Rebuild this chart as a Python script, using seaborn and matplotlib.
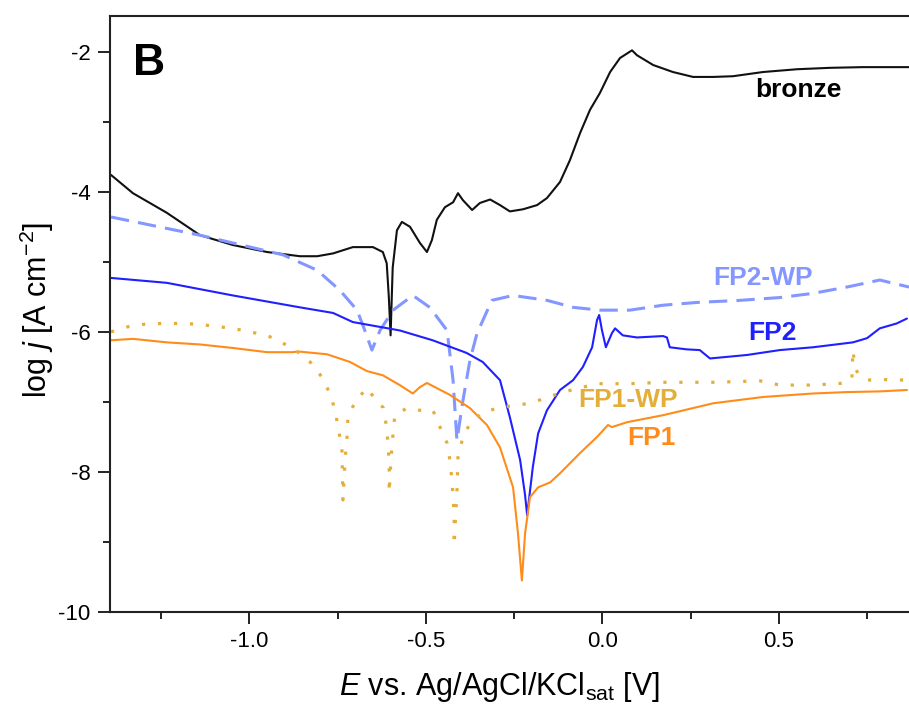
import numpy as np
import pandas as pd
import matplotlib
matplotlib.use("Agg")
import matplotlib.pyplot as plt
import seaborn as sns

# Potentiodynamic polarisation curves: potential E [V] and log j [A cm^-2]
bronze_E = [-1.392, -1.330, -1.234, -1.140, -1.047, -0.950, -0.857, -0.808, -0.763,
            -0.707, -0.650, -0.622, -0.611, -0.605, -0.600, -0.596, -0.594, -0.582,
            -0.568, -0.545, -0.517, -0.497, -0.483, -0.469, -0.446, -0.423, -0.409,
            -0.395, -0.369, -0.347, -0.318, -0.290, -0.262, -0.225, -0.185, -0.157,
            -0.120, -0.092, -0.063, -0.035, -0.007, 0.022, 0.050, 0.084, 0.098,
            0.144, 0.200, 0.257, 0.314, 0.370, 0.455, 0.552, 0.645, 0.739, 0.869]
bronze_logj = [-3.76, -4.02, -4.30, -4.62, -4.76, -4.86, -4.92, -4.92, -4.88,
               -4.79, -4.79, -4.86, -5.02, -5.50, -6.05, -5.40, -5.08, -4.55,
               -4.43, -4.50, -4.73, -4.86, -4.69, -4.40, -4.22, -4.15, -4.02,
               -4.12, -4.26, -4.16, -4.11, -4.19, -4.28, -4.25, -4.19, -4.09,
               -3.86, -3.55, -3.16, -2.83, -2.59, -2.29, -2.09, -1.98, -2.05,
               -2.19, -2.29, -2.36, -2.36, -2.35, -2.29, -2.25, -2.23, -2.22, -2.22]

fp2wp_E = [-1.392, -1.140, -0.905, -0.808, -0.743, -0.695, -0.673, -0.653, -0.630,
           -0.593, -0.537, -0.489, -0.440, -0.423, -0.412, -0.395, -0.375, -0.355,
           -0.313, -0.253, -0.157, -0.083, -0.007, 0.078, 0.171, 0.268, 0.390,
           0.503, 0.597, 0.693, 0.786, 0.869]
fp2wp_logj = [-4.36, -4.62, -4.90, -5.12, -5.41, -5.69, -5.98, -6.26, -5.98,
              -5.69, -5.48, -5.65, -5.98, -6.69, -7.55, -6.98, -6.40, -6.02,
              -5.55, -5.48, -5.55, -5.65, -5.69, -5.69, -5.62, -5.58, -5.55,
              -5.51, -5.45, -5.36, -5.26, -5.36]

fp2_E = [-1.392, -1.234, -1.047, -0.857, -0.763, -0.707, -0.574, -0.481, -0.385,
         -0.339, -0.290, -0.262, -0.233, -0.219, -0.213, -0.208, -0.197, -0.182,
         -0.157, -0.120, -0.083, -0.055, -0.029, -0.015, -0.009, -0.001, 0.010,
         0.027, 0.036, 0.058, 0.098, 0.172, 0.183, 0.191, 0.239, 0.276, 0.305,
         0.410, 0.503, 0.597, 0.710, 0.750, 0.786, 0.834, 0.863]
fp2_logj = [-5.23, -5.30, -5.48, -5.65, -5.73, -5.86, -5.98, -6.12, -6.30,
            -6.43, -6.69, -7.22, -7.83, -8.33, -8.62, -8.40, -7.93, -7.45,
            -7.12, -6.83, -6.69, -6.50, -6.22, -5.83, -5.76, -5.98, -6.22,
            -6.02, -5.95, -6.05, -6.08, -6.06, -6.08, -6.22, -6.25, -6.26, -6.38,
            -6.33, -6.26, -6.22, -6.15, -6.09, -5.95, -5.88, -5.81]

fp1_E = [-1.392, -1.330, -1.234, -1.140, -1.047, -0.950, -0.877, -0.862, -0.780,
         -0.715, -0.667, -0.622, -0.574, -0.537, -0.517, -0.497, -0.432, -0.375,
         -0.327, -0.290, -0.253, -0.239, -0.228, -0.219, -0.205, -0.182, -0.148,
         -0.120, -0.063, -0.015, 0.016, 0.027, 0.070, 0.172, 0.314, 0.455, 0.597,
         0.693, 0.786, 0.863]
fp1_logj = [-6.12, -6.10, -6.15, -6.18, -6.23, -6.29, -6.29, -6.28, -6.32,
            -6.43, -6.56, -6.62, -6.76, -6.88, -6.79, -6.73, -6.90, -7.09,
            -7.33, -7.65, -8.22, -8.88, -9.55, -8.88, -8.36, -8.22, -8.15,
            -8.02, -7.73, -7.50, -7.33, -7.36, -7.29, -7.19, -7.02, -6.93, -6.88,
            -6.86, -6.85, -6.83]

fp1wp_E = [-1.392, -1.347, -1.296, -1.245, -1.197, -1.146, -1.098, -1.047, -0.999,
           -0.950, -0.905, -0.862, -0.828, -0.794, -0.772, -0.757, -0.749, -0.738,
           -0.735, -0.729, -0.723, -0.721, -0.701, -0.667, -0.638, -0.621, -0.613,
           -0.607, -0.604, -0.604, -0.599, -0.593, -0.588, -0.554, -0.517, -0.480,
           -0.460, -0.440, -0.432, -0.426, -0.420, -0.420, -0.415, -0.412, -0.409,
           -0.395, -0.375, -0.339, -0.290, -0.205, -0.111, -0.015, 0.078, 0.172,
           0.314, 0.447, 0.503, 0.597, 0.693, 0.707, 0.710, 0.716, 0.724, 0.750,
           0.778, 0.869]
fp1wp_logj = [-6.00, -5.93, -5.89, -5.88, -5.88, -5.89, -5.92, -5.95, -6.00,
              -6.05, -6.16, -6.29, -6.43, -6.65, -6.88, -7.12, -7.36, -7.65,
              -8.40, -7.83, -7.48, -7.23, -7.00, -6.80, -7.00, -7.08, -7.31,
              -7.60, -7.93, -8.30, -7.83, -7.45, -7.19, -7.09, -7.12, -7.12,
              -7.36, -7.59, -7.83, -8.12, -8.59, -9.05, -8.55, -8.30, -7.79,
              -7.50, -7.31, -7.15, -7.08, -7.02, -6.86, -6.74, -6.74, -6.72,
              -6.72, -6.70, -6.76, -6.76, -6.73, -6.66, -6.26, -6.51, -6.59, -6.69,
              -6.68, -6.69]

x_ticks = [-1.0, -0.5, 0.0, 0.5]
x_tick_labels = ["-1.0", "-0.5", "0.0", "0.5"]
y_ticks = [-2, -4, -6, -8, -10]
y_tick_labels = ["-2", "-4", "-6", "-8", "-10"]

sns.set_style("ticks")
plt.rcParams["font.family"] = ["Liberation Sans", "DejaVu Sans"]
plt.rcParams["mathtext.fontset"] = "custom"
plt.rcParams["mathtext.rm"] = "Liberation Sans"
plt.rcParams["mathtext.it"] = "Liberation Sans:italic"
plt.rcParams["mathtext.bf"] = "Liberation Sans:bold"
plt.rcParams["text.color"] = "black"
plt.rcParams["axes.labelcolor"] = "black"
plt.rcParams["xtick.color"] = "#222222"
plt.rcParams["ytick.color"] = "#222222"
plt.rcParams["xtick.labelcolor"] = "black"
plt.rcParams["ytick.labelcolor"] = "black"

fig = plt.figure(figsize=(9.09, 7.07), dpi=100)
ax = fig.add_axes([110 / 909, 95 / 707, 810 / 909, 596 / 707])

series = [
    ("bronze", bronze_E, bronze_logj, "#111111", "-", 1.5),
    ("FP2-WP", fp2wp_E, fp2wp_logj, "#8496ff", (0, (6, 3)), 2.2),
    ("FP2", fp2_E, fp2_logj, "#1f1fff", "-", 1.5),
    ("FP1", fp1_E, fp1_logj, "#ff8c1a", "-", 1.5),
    ("FP1-WP", fp1wp_E, fp1wp_logj, "#e3ae3a", (0, (1, 4)), 2.3),
]
for name, E, lj, color, ls, lw in series:
    df = pd.DataFrame({"E": E, "logj": lj})
    sns.lineplot(data=df, x="E", y="logj", sort=False, estimator=None,
                 color=color, linestyle=ls, linewidth=lw, ax=ax)

ax.set_xlim(-1.395, 0.9)
ax.set_ylim(-10, -1.49)
ax.set_xticks(x_ticks)
ax.set_xticklabels(x_tick_labels)
ax.set_yticks(y_ticks)
ax.set_yticklabels(y_tick_labels)
ax.set_xticks([-1.25, -0.75, -0.25, 0.25, 0.75], minor=True)
ax.set_yticks([-3, -5, -7, -9], minor=True)
ax.tick_params(which="major", direction="out", length=8.5, width=1.4,
               labelsize=16, pad=5.5, color="#222222", labelcolor="black")
ax.tick_params(which="minor", direction="out", length=5, width=1.4, color="#222222")
ax.spines["right"].set_visible(False)
for s in ("left", "bottom", "top"):
    ax.spines[s].set_linewidth(1.5)
    ax.spines[s].set_color("#222222")

ax.set_xlabel(r"$\mathit{E}$ vs. Ag/AgCl/KCl$_{\mathrm{sat}}$ [V]", fontsize=22,
              color="black")
ax.set_ylabel(r"log $\mathit{j}$ [A cm$^{-2}$]", fontsize=22, color="black")
ax.xaxis.set_label_coords(0.481, -0.097)
ax.yaxis.set_label_coords(-0.067, 0.507)

ax.text(0.028, 0.955, "B", transform=ax.transAxes, fontsize=32,
        fontweight="bold", ha="left", va="top", color="black")
label_style = dict(fontsize=19, fontweight="bold", ha="center", va="center")
ax.text(0.555, -2.55, "bronze", color="black", **label_style)
ax.text(0.455, -5.23, "FP2-WP", color="#8496ff", **label_style)
ax.text(0.483, -6.02, "FP2", color="#1f1fff", **label_style)
ax.text(0.073, -6.98, "FP1-WP", color="#e3ae3a", **label_style)
ax.text(0.140, -7.51, "FP1", color="#ff8c1a", **label_style)

fig.savefig("out.png", dpi=100)
